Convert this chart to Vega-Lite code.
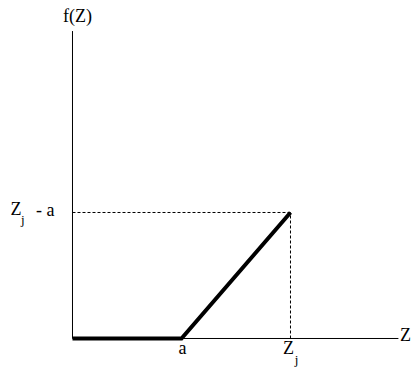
{
  "$schema": "https://vega.github.io/schema/vega-lite/v6.json",
  "width": 412,
  "height": 369,
  "autosize": {"type": "fit", "contains": "padding"},
  "padding": 0,
  "background": "white",
  "config": {"view": {"stroke": null}},
  "datasets": {
    "axes": [
      {"x": 0, "x2": 0, "y": 0, "y2": 2.44},
      {"x": 0, "x2": 2.99, "y": 0, "y2": 0}
    ],
    "guides": [
      {"x": 0, "x2": 2, "y": 1, "y2": 1},
      {"x": 2, "x2": 2, "y": 0, "y2": 1}
    ],
    "curve": [
      {"z": 0, "f": 0},
      {"z": 1, "f": 0},
      {"z": 2, "f": 1}
    ],
    "labels": [
      {"x": 0.046, "y": 2.548, "label": "f(Z)"},
      {"x": -0.518, "y": 1.016, "label": "Z"},
      {"x": -0.25, "y": 1.008, "label": "- a"},
      {"x": 1.009, "y": -0.087, "label": "a"},
      {"x": 1.982, "y": -0.087, "label": "Z"},
      {"x": 3.055, "y": 0.016, "label": "Z"}
    ],
    "subs": [
      {"x": -0.455, "y": 0.944, "label": "j"},
      {"x": 2.055, "y": -0.167, "label": "j"}
    ]
  },
  "layer": [
    {
      "data": {"name": "axes"},
      "mark": {"type": "rule", "color": "black", "strokeWidth": 1},
      "encoding": {
        "x": {"field": "x", "type": "quantitative", "scale": {"domain": [-0.6651, 3.1147], "nice": false, "zero": false}, "axis": null},
        "x2": {"field": "x2"},
        "y": {"field": "y", "type": "quantitative", "scale": {"domain": [-0.2421, 2.6865], "nice": false, "zero": false}, "axis": null},
        "y2": {"field": "y2"}
      }
    },
    {
      "data": {"name": "guides"},
      "mark": {"type": "rule", "color": "black", "strokeWidth": 1, "strokeDash": [3, 2]},
      "encoding": {
        "x": {"field": "x", "type": "quantitative", "scale": {"domain": [-0.6651, 3.1147], "nice": false, "zero": false}, "axis": null},
        "x2": {"field": "x2"},
        "y": {"field": "y", "type": "quantitative", "scale": {"domain": [-0.2421, 2.6865], "nice": false, "zero": false}, "axis": null},
        "y2": {"field": "y2"}
      }
    },
    {
      "data": {"name": "curve"},
      "mark": {"type": "line", "color": "black", "strokeWidth": 4, "strokeCap": "butt", "strokeJoin": "miter"},
      "encoding": {
        "x": {"field": "z", "type": "quantitative", "scale": {"domain": [-0.6651, 3.1147], "nice": false, "zero": false}, "axis": null},
        "y": {"field": "f", "type": "quantitative", "scale": {"domain": [-0.2421, 2.6865], "nice": false, "zero": false}, "axis": null}
      }
    },
    {
      "data": {"name": "labels"},
      "mark": {"type": "text", "font": "Liberation Serif", "fontSize": 18, "color": "black", "align": "center", "baseline": "middle"},
      "encoding": {
        "x": {"field": "x", "type": "quantitative", "scale": {"domain": [-0.6651, 3.1147], "nice": false, "zero": false}, "axis": null},
        "y": {"field": "y", "type": "quantitative", "scale": {"domain": [-0.2421, 2.6865], "nice": false, "zero": false}, "axis": null},
        "text": {"field": "label"}
      }
    },
    {
      "data": {"name": "subs"},
      "mark": {"type": "text", "font": "Liberation Serif", "fontSize": 13, "color": "black", "align": "center", "baseline": "middle"},
      "encoding": {
        "x": {"field": "x", "type": "quantitative", "scale": {"domain": [-0.6651, 3.1147], "nice": false, "zero": false}, "axis": null},
        "y": {"field": "y", "type": "quantitative", "scale": {"domain": [-0.2421, 2.6865], "nice": false, "zero": false}, "axis": null},
        "text": {"field": "label"}
      }
    }
  ]
}
